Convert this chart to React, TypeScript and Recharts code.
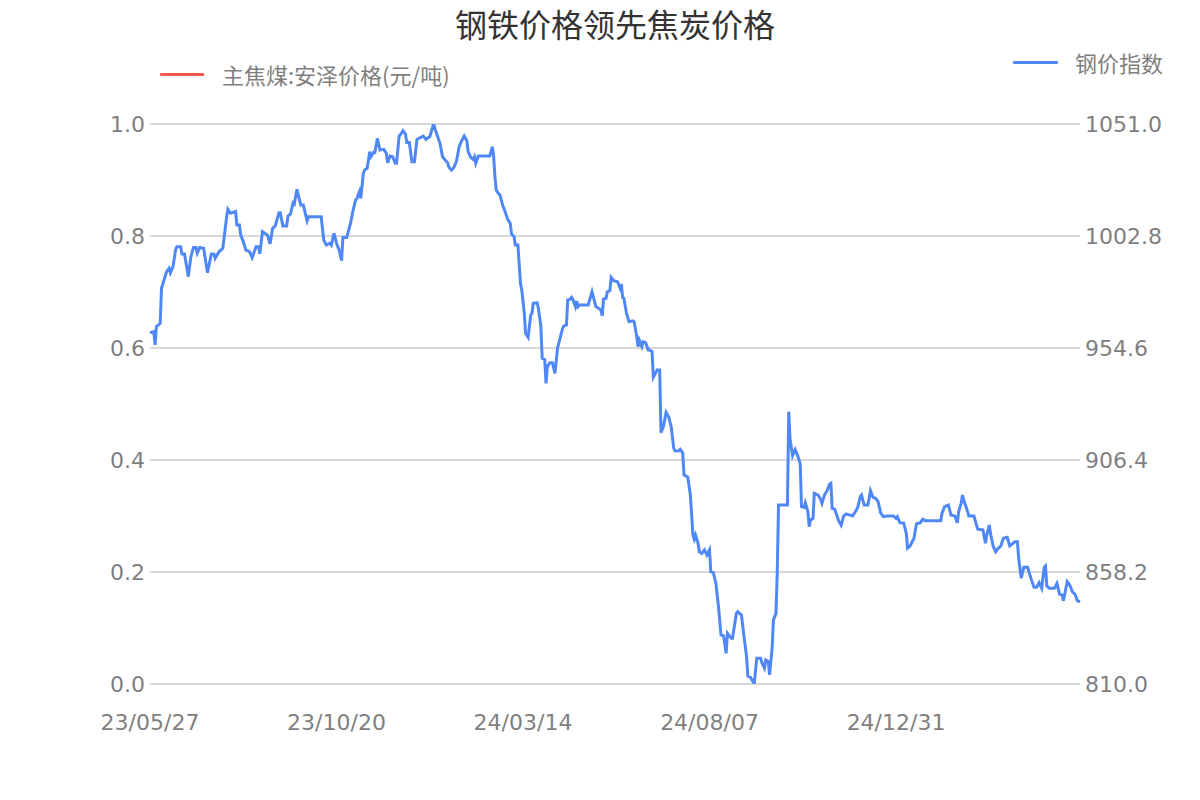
import { LineChart, Line, XAxis, YAxis, CartesianGrid } from "recharts";

// x axis: days since 2023-05-27
const tickDays = [0, 146, 292, 438, 584];
const tickLabels = ["23/05/27", "23/10/20", "24/03/14", "24/08/07", "24/12/31"];
const leftTicks = [0, 0.2, 0.4, 0.6, 0.8, 1.0];
const rightTicks = [810, 858.2, 906.4, 954.6, 1002.8, 1051.0];

const dayOffsets = [
  0, 3, 4, 5, 8, 9, 11, 13, 15, 16,
  18, 20, 21, 24, 25, 27, 30, 32, 34, 36,
  37, 39, 42, 45, 48, 50, 51, 54, 57, 60,
  61, 63, 67, 68, 70, 71, 73, 75, 78, 80,
  83, 85, 86, 88, 92, 94, 96, 98, 101, 102,
  104, 107, 108, 110, 112, 113, 115, 118, 120, 123,
  124, 134, 136, 138, 141, 142, 144, 146, 148, 150,
  151, 154, 157, 159, 161, 162, 164, 165, 167, 168,
  170, 172, 173, 175, 176, 178, 180, 183, 185, 186,
  188, 190, 192, 193, 195, 196, 198, 200, 201, 203,
  205, 207, 209, 212, 214, 216, 218, 219, 222, 223,
  225, 227, 229, 231, 233, 234, 236, 238, 240, 242,
  244, 246, 248, 249, 251, 253, 254, 255, 257, 266,
  268, 269, 270, 271, 273, 274, 276, 277, 280, 282,
  283, 285, 286, 288, 290, 291, 293, 294, 296, 298,
  299, 300, 303, 304, 306, 307, 309, 310, 311, 313,
  315, 317, 319, 321, 323, 324, 326, 327, 329, 330,
  331, 333, 334, 335, 336, 343, 346, 349, 351, 353,
  354, 355, 357, 358, 360, 361, 363, 366, 368, 369,
  370, 371, 373, 375, 378, 379, 381, 382, 383, 385,
  386, 388, 390, 391, 393, 394, 397, 399, 400, 402,
  404, 406, 408, 410, 411, 414, 415, 417, 418, 421,
  423, 425, 426, 427, 429, 430, 432, 434, 436, 438,
  439, 441, 443, 445, 447, 449, 451, 452, 455, 456,
  459, 460, 463, 465, 467, 468, 470, 472, 473, 475,
  478, 479, 481, 482, 484, 485, 487, 488, 490, 491,
  492, 499, 500, 501, 503, 505, 507, 509, 510, 512,
  513, 515, 516, 517, 519, 520, 523, 525, 526, 528,
  530, 532, 533, 534, 536, 538, 539, 541, 543, 545,
  548, 550, 553, 554, 556, 557, 559, 562, 564, 566,
  568, 570, 572, 574, 577, 582, 584, 585, 587, 590,
  592, 593, 595, 598, 600, 603, 605, 607, 619, 620,
  622, 625, 627, 630, 632, 633, 635, 636, 637, 640,
  641, 645, 647, 648, 652, 654, 655, 657, 658, 660,
  662, 664, 666, 668, 671, 673, 675, 677, 679, 680,
  682, 684, 687, 688, 690, 692, 694, 696, 698, 700,
  701, 702, 704, 708, 710, 712, 714, 715, 718, 720,
  722, 724, 726, 728,
];

// 钢价指数 (right axis)
const steelIndex = [
  961.2, 961.6, 955.9, 963.8, 965.2, 980.3, 983.9, 987.4, 988.9, 987.0,
  989.6, 996.8, 998.2, 998.2, 995.1, 995.1, 985.3, 993.9, 997.9, 997.9,
  995.4, 997.9, 997.5, 987.0, 995.1, 995.1, 993.2, 996.0, 997.5, 1011.1,
  1014.3, 1012.6, 1013.3, 1007.5, 1007.5, 1003.2, 1000.4, 996.8, 996.0, 993.5,
  998.2, 998.2, 995.1, 1004.7, 1003.2, 999.4, 1006.1, 1007.1, 1012.8, 1012.8,
  1007.1, 1007.1, 1011.4, 1012.3, 1017.1, 1016.6, 1022.9, 1016.1, 1016.1, 1009.4,
  1011.1, 1011.1, 1001.1, 998.9, 999.7, 998.9, 1004.0, 999.7, 996.8, 992.2,
  1002.2, 1002.2, 1008.3, 1014.0, 1018.3, 1019.0, 1021.9, 1019.0, 1029.8, 1031.2,
  1031.9, 1039.1, 1036.9, 1038.7, 1038.7, 1044.8, 1039.8, 1040.1, 1038.4, 1034.3,
  1037.2, 1036.9, 1034.1, 1034.1, 1045.8, 1046.3, 1048.1, 1046.7, 1043.0, 1043.0,
  1034.8, 1034.8, 1044.4, 1045.3, 1045.8, 1044.4, 1045.3, 1045.5, 1051.0, 1049.1,
  1045.8, 1042.7, 1036.9, 1035.5, 1034.3, 1032.4, 1031.2, 1032.4, 1035.2, 1041.2,
  1043.8, 1045.8, 1043.8, 1039.1, 1036.7, 1035.8, 1036.9, 1034.1, 1037.2, 1037.2,
  1041.2, 1037.2, 1028.3, 1022.6, 1020.9, 1020.4, 1016.1, 1014.7, 1010.0, 1008.3,
  1003.7, 1002.5, 998.9, 998.9, 982.4, 979.6, 969.5, 960.9, 959.2, 968.8,
  969.5, 973.8, 974.1, 971.7, 963.8, 950.2, 949.7, 939.4, 946.6, 948.3,
  948.3, 943.7, 954.5, 958.8, 963.1, 964.1, 964.5, 975.3, 975.6, 976.4,
  975.6, 972.4, 974.8, 972.4, 973.1, 973.1, 978.8, 972.4, 971.7, 971.0,
  968.4, 975.6, 976.0, 978.8, 979.3, 985.0, 983.6, 983.1, 980.3, 982.1,
  976.4, 976.0, 969.5, 965.9, 966.3, 965.9, 959.5, 955.2, 958.0, 955.2,
  957.3, 956.9, 953.7, 953.7, 953.0, 942.0, 945.1, 945.1, 918.1, 921.0,
  926.9, 925.0, 920.7, 911.4, 910.3, 910.4, 911.0, 909.5, 900.0, 899.0,
  891.3, 874.1, 872.3, 874.1, 870.6, 866.9, 866.2, 867.7, 865.5, 867.7,
  858.3, 857.9, 853.3, 843.3, 831.1, 830.7, 823.2, 831.8, 829.7, 829.7,
  840.4, 841.1, 839.7, 830.4, 821.7, 813.4, 812.9, 811.0, 810.3, 821.1,
  821.1, 819.2, 816.8, 820.3, 819.6, 813.9, 825.4, 837.5, 840.4, 857.6,
  887.0, 887.0, 927.2, 915.4, 908.3, 910.9, 908.3, 904.7, 886.3, 886.0,
  888.0, 884.2, 877.7, 880.6, 881.3, 892.1, 891.3, 889.5, 887.8, 891.3,
  893.2, 896.1, 896.4, 885.6, 885.2, 882.0, 880.3, 878.4, 882.3, 883.2,
  882.7, 882.3, 884.9, 886.0, 890.6, 891.3, 887.0, 887.0, 893.2, 890.3,
  889.9, 888.5, 883.5, 882.0, 882.3, 882.3, 881.3, 882.0, 879.4, 879.2,
  874.9, 868.5, 869.4, 872.7, 878.9, 879.4, 880.9, 880.3, 880.3, 883.5,
  886.3, 887.0, 882.7, 882.3, 879.4, 884.2, 887.8, 891.3, 889.2, 884.2,
  882.3, 882.3, 878.4, 876.6, 876.3, 870.6, 874.1, 878.4, 874.6, 869.4,
  866.9, 868.4, 869.4, 872.7, 873.1, 869.4, 870.3, 871.2, 871.2, 864.1,
  855.5, 860.2, 860.2, 858.3, 854.8, 851.6, 851.6, 853.6, 851.2, 860.2,
  860.8, 852.2, 851.2, 851.2, 853.3, 848.7, 848.3, 845.8, 854.0, 852.6,
  849.7, 848.7, 845.8, 845.4,
];

// 主焦煤:安泽价格(元/吨) (left axis) - no points shown in the picture
const cokingCoal: (number | null)[] = [];

const chartData = dayOffsets.map((day, i) => ({
  day,
  steel: steelIndex[i],
  coal: cokingCoal[i] ?? null,
}));

const FONT = "'DejaVu Sans', 'Noto Sans CJK SC', sans-serif";
const CJK = "'Noto Sans CJK SC', 'DejaVu Sans', sans-serif";
const GREY = "#7f7f7f";
const BLUE = "#4f88f6";
const RED = "#f0584a";

const tickStyle = { fontSize: 22, fill: GREY, fontFamily: FONT };

export default function App() {
  return (
    <div style={{ position: "relative", width: 1192, height: 792 }}>
      <div
        style={{
          position: "absolute",
          left: 607,
          top: -8,
          transform: "translateX(-50%)",
          fontFamily: CJK,
          fontSize: 32,
          lineHeight: "normal",
          color: "#333",
          whiteSpace: "nowrap",
        }}
      >
        钢铁价格领先焦炭价格
      </div>

      <div style={{ position: "absolute", left: 152, top: 51, display: "flex", alignItems: "center", height: 30 }}>
        <div style={{ width: 44, height: 3, background: RED, borderRadius: 1 }} />
        <span style={{ marginLeft: 18, fontFamily: CJK, fontSize: 22, color: GREY, whiteSpace: "nowrap" }}>
          主焦煤:安泽价格(元/吨)
        </span>
      </div>

      <div style={{ position: "absolute", left: 1005, top: 39, display: "flex", alignItems: "center", height: 30 }}>
        <div style={{ width: 45, height: 3, background: BLUE, borderRadius: 1 }} />
        <span style={{ marginLeft: 17, fontFamily: CJK, fontSize: 22, color: GREY, whiteSpace: "nowrap" }}>
          钢价指数
        </span>
      </div>

      <LineChart
        width={1192}
        height={792}
        data={chartData}
        margin={{ top: 116, right: 0, bottom: 56, left: 0 }}
      >
        <CartesianGrid yAxisId="right" vertical={false} stroke="#b3b3b3" />
        <XAxis
          dataKey="day"
          type="number"
          domain={[0, 728]}
          ticks={tickDays}
          tickFormatter={(d: number) => tickLabels[tickDays.indexOf(d)] ?? ""}
          axisLine={false}
          tickLine={false}
          tickSize={0}
          tickMargin={30}
          height={60}
          tick={tickStyle}
        />
        <YAxis
          yAxisId="left"
          orientation="left"
          type="number"
          domain={[0, 1]}
          allowDataOverflow
          ticks={leftTicks}
          tickFormatter={(v: number) => v.toFixed(1)}
          axisLine={false}
          tickLine={false}
          tickSize={0}
          tickMargin={5}
          width={142}
          tick={tickStyle}
        />
        <YAxis
          yAxisId="right"
          orientation="right"
          type="number"
          domain={[810, 1051]}
          allowDataOverflow
          ticks={rightTicks}
          tickFormatter={(v: number) => v.toFixed(1)}
          axisLine={false}
          tickLine={false}
          tickSize={0}
          tickMargin={5}
          width={120}
          tick={tickStyle}
        />
        <Line
          yAxisId="left"
          dataKey="coal"
          stroke={RED}
          strokeWidth={3}
          dot={false}
          isAnimationActive={false}
        />
        <Line
          yAxisId="right"
          dataKey="steel"
          type="linear"
          stroke={BLUE}
          strokeWidth={3}
          dot={false}
          isAnimationActive={false}
        />
      </LineChart>
    </div>
  );
}
